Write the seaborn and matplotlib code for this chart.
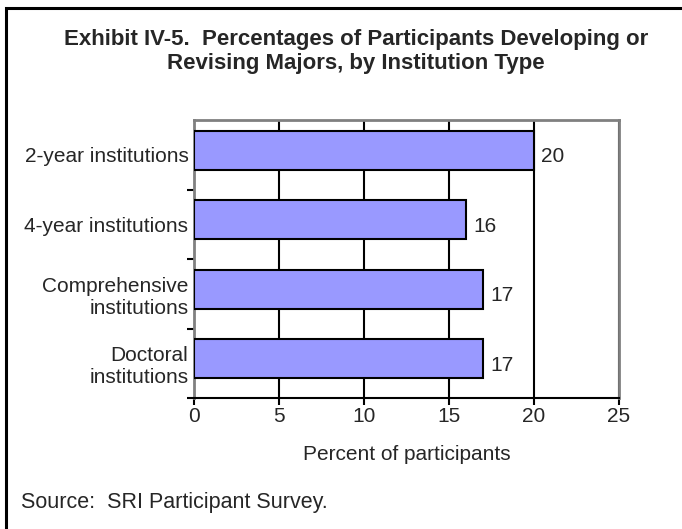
import matplotlib
matplotlib.use("Agg")
import matplotlib.pyplot as plt
import matplotlib.transforms as mtransforms
import seaborn as sns
import pandas as pd
from matplotlib.patches import Rectangle

categories = ["2-year institutions", "4-year institutions",
              "Comprehensive\ninstitutions", "Doctoral\ninstitutions"]
values = [20, 16, 17, 17]
x_ticks = [0, 5, 10, 15, 20, 25]

title = "Exhibit IV-5.  Percentages of Participants Developing or\nRevising Majors, by Institution Type"
xlabel = "Percent of participants"
source = "Source:  SRI Participant Survey."

sns.set_theme(style="white")
plt.rcParams['font.family'] = ['Liberation Sans', 'DejaVu Sans']

df = pd.DataFrame({"cat": categories, "val": values})

fig = plt.figure(figsize=(6.82, 5.29), dpi=100)
ax = fig.add_axes([194/682, 1-398/529, (619-194)/682, (398-120)/529])

sns.barplot(data=df, y="cat", x="val", orient="h", color="#9999FF",
            saturation=1, width=0.56, edgecolor="black", linewidth=1.5, ax=ax, zorder=3)

# Excel draws the bars slightly above the category centre
shift = mtransforms.ScaledTranslation(0, 4.5/100, fig.dpi_scale_trans)
for p in ax.patches:
    p.set_transform(ax.transData + shift)

ax.set_xlim(0, 25)
ax.set_ylim(3.5, -0.5)
ax.set_xticks(x_ticks)
ax.set_xticklabels([str(t) for t in x_ticks], fontsize=15)
for t in x_ticks[1:]:
    ax.axvline(t, color="black", lw=1.5, zorder=1)

ax.set_yticks(range(len(categories)))
ax.set_yticklabels(categories, fontsize=15, multialignment="right")
ax.set_yticks([0.5, 1.5, 2.5, 3.5], minor=True)
ax.tick_params(axis="y", which="major", length=0, pad=4)
ax.tick_params(axis="y", which="minor", length=5, width=1.5, color="black", left=True, direction="out")
ax.tick_params(axis="x", which="major", length=5, width=1.5, color="black", bottom=True, direction="out", pad=1.5)

ax.set_xlabel(xlabel, fontsize=15, labelpad=14)
ax.set_ylabel("")

for s in ["left", "right", "top"]:
    ax.spines[s].set_visible(True)
    ax.spines[s].set_color("#808080")
    ax.spines[s].set_linewidth(2)
ax.spines["bottom"].set_color("black")
ax.spines["bottom"].set_linewidth(1.5)
ax.spines["bottom"].set_zorder(5)

for i, v in enumerate(values):
    ax.annotate(str(v), xy=(v, i), xytext=(5, -1.5), textcoords="offset points",
                ha="left", va="center", fontsize=15)

fig.text(356/682, 1-29/529, title, ha="center", va="top", fontsize=16,
         fontweight="bold", linespacing=1.17)
fig.text(21/682, 1-508/529, source, ha="left", va="baseline", fontsize=15.5)

fig.patches.append(Rectangle((6/682, -0.05), 1.0, 1-7.5/529+0.05,
                             transform=fig.transFigure, fill=False,
                             edgecolor="black", lw=2.2, zorder=10))

fig.savefig("out.png", dpi=100)
